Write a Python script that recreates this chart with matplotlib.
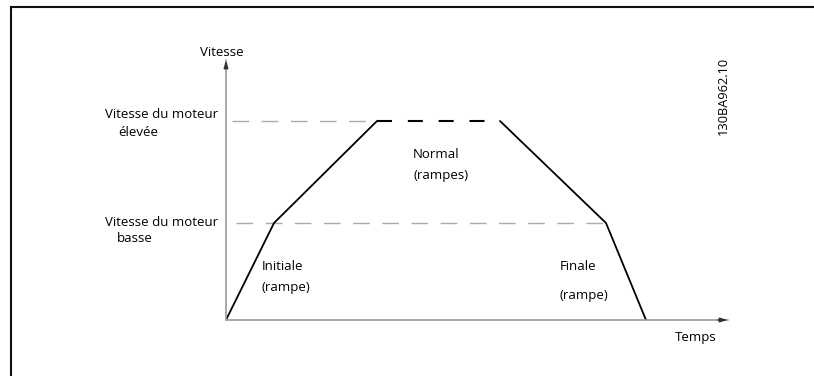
import matplotlib.pyplot as plt
from matplotlib.lines import Line2D

plt.rcParams['font.family'] = ['Open Sans', 'DejaVu Sans']

# speed profile (time and speed in arbitrary units)
time = [0, 48, 151, 274, 380, 420]
speed = [0, 97, 199, 199, 97, 0]
low_speed = 97
high_speed = 199
t_max = 502
v_max = 260

W, H = 814, 376


def main():
    fig = plt.figure(figsize=(W / 100, H / 100), dpi=100)

    # frame (top and left edges only)
    fig.add_artist(Line2D([11 / W, 1], [1 - 7 / H, 1 - 7 / H], color='#111111', lw=1.5))
    fig.add_artist(Line2D([11 / W, 11 / W], [1 - 7 / H, 0], color='#111111', lw=1.5))

    ax = fig.add_axes([226 / W, (H - 320) / H, (728 - 226) / W, (320 - 60) / H])
    ax.set_xlim(0, t_max)
    ax.set_ylim(0, v_max)
    ax.axis('off')
    ax.patch.set_alpha(0)

    # axes with arrows
    for end in [(t_max, 0), (0, v_max)]:
        ax.annotate('', xy=end, xytext=(0, 0), annotation_clip=False,
                    arrowprops=dict(arrowstyle='-', color='#999999', lw=1.2,
                                    shrinkA=0, shrinkB=0))
        ax.annotate('', xy=end, xytext=(end[0] * 0.98, end[1] * 0.98),
                    annotation_clip=False,
                    arrowprops=dict(arrowstyle='-|>,head_length=0.45,head_width=0.13',
                                    color='#333333', lw=1, shrinkA=0, shrinkB=0))

    # reference levels
    ax.plot([6, time[2]], [high_speed, high_speed], color='#aaaaaa', lw=1,
            dashes=(12, 9), clip_on=False)
    ax.plot([10, time[4]], [low_speed, low_speed], color='#aaaaaa', lw=1,
            dashes=(12, 9), clip_on=False)

    # profile
    ax.plot(time[:3], speed[:3], color='black', lw=1.3, solid_capstyle='round')
    ax.plot(time[2:4], speed[2:4], color='black', lw=1.5, dashes=(7.2, 7.6))
    ax.plot(time[3:], speed[3:], color='black', lw=1.3, solid_capstyle='round')

    fs = 9.5
    ax.text(-4, v_max + 8, 'Vitesse', fontsize=fs, ha='center', va='center')
    ax.text(470, -17, 'Temps', fontsize=fs, ha='center', va='center')
    ax.text(-121, high_speed + 6, 'Vitesse du moteur', fontsize=fs, va='center')
    ax.text(-108, high_speed - 11, 'élevée', fontsize=fs, va='center')
    ax.text(-121, low_speed + 1, 'Vitesse du moteur', fontsize=fs, va='center')
    ax.text(-109, low_speed - 16, 'basse', fontsize=fs, va='center')
    ax.text(36, 54, 'Initiale', fontsize=fs, va='center')
    ax.text(36, 33, '(rampe)', fontsize=fs, va='center')
    ax.text(187, 166, 'Normal', fontsize=fs, va='center')
    ax.text(187, 145, '(rampes)', fontsize=fs, va='center')
    ax.text(334, 54, 'Finale', fontsize=fs, va='center')
    ax.text(334, 25, '(rampe)', fontsize=fs, va='center')
    ax.text(497, 224, '130BA962.10', fontsize=9.2, rotation=90,
            ha='center', va='center')

    fig.savefig('out.png', dpi=100)


if __name__ == '__main__':
    main()
